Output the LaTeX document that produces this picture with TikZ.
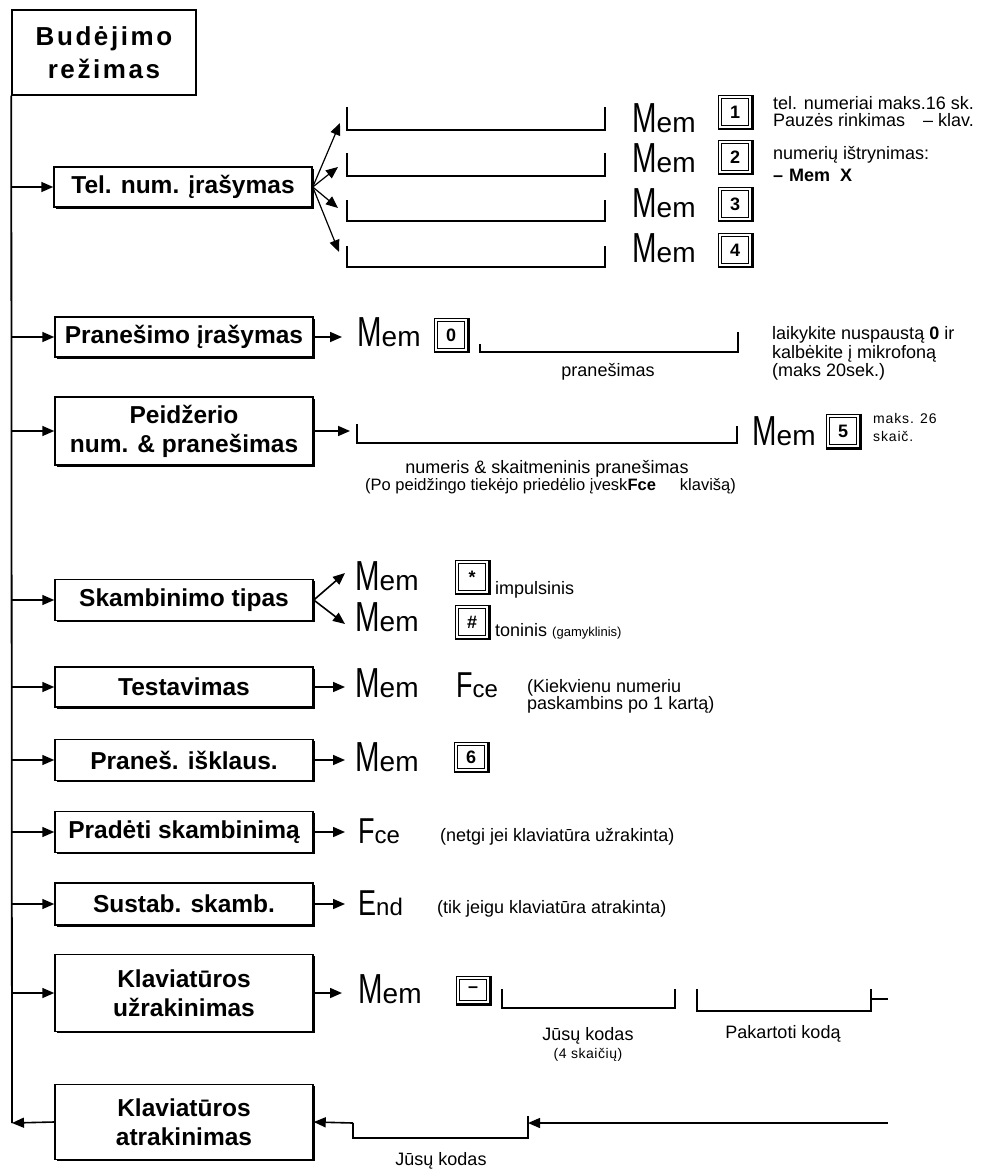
\documentclass[tikz,border=0pt]{standalone}
\usepackage{fontspec}
\setmainfont{Liberation Sans}
\usepackage{graphicx}
\usetikzlibrary{arrows.meta,shadows}
\newcommand{\MemW}{{\fontsize{42}{42}\selectfont\scalebox{0.7}[1]{M}}{\fontsize{28}{28}\selectfont em}}
\newcommand{\FceW}{{\fontsize{36}{36}\selectfont\scalebox{0.75}[1]{F}}{\fontsize{24}{24}\selectfont ce}}
\newcommand{\EndW}{{\fontsize{36}{36}\selectfont\scalebox{0.75}[1]{E}}{\fontsize{24}{24}\selectfont nd}}
\newcommand{\KeyB}[4][33]{%
  \node[keyb, minimum height=#1pt] (#2) at #3 {#4};
  \draw[line width=2.6pt] (#2.north east) -- (#2.south east) -- (#2.south west);
  \draw[line width=0.7pt] ([shift={(3.5,3.5)}]#2.north west) rectangle ([shift={(-4,-4)}]#2.south east);
}
\tikzset{
  box/.style={draw, line width=1.5pt, fill=white, minimum width=258pt, inner sep=0pt,
    font=\fontsize{24.5}{29}\selectfont\bfseries, align=center,
    drop shadow={shadow xshift=1.6pt, shadow yshift=-1.6pt, opacity=1, fill=black}},
  keyb/.style={draw, line width=1pt, fill=white,
    minimum width=34pt, inner sep=0pt,
    font=\fontsize{18}{18}\selectfont\bfseries},
  lcd/.style={inner sep=0pt, anchor=base west},
  note/.style={inner sep=0pt, anchor=base west, font=\fontsize{18}{18}\selectfont},
  notec/.style={inner sep=0pt, anchor=base, font=\fontsize{18}{18}\selectfont},
  small/.style={inner sep=0pt, anchor=base west, font=\fontsize{14}{14}\selectfont},
  arr/.style={line width=1.6pt, -{Triangle[length=12pt,width=10pt]}},
  fan/.style={line width=1.2pt, -{Triangle[length=12pt,width=10pt]}},
  thickb/.style={line width=2.4pt, line cap=rect},
  thinb/.style={line width=1.4pt, line cap=rect},
  trunk/.style={line width=1.8pt}
}
\begin{document}
\begin{tikzpicture}[x=1pt,y=-1pt]
\useasboundingbox (0,0) rectangle (995,1169);
% root
\node[draw, line width=1.5pt, fill=white, minimum width=184pt, minimum height=85pt, inner sep=0pt,
  font=\fontsize{26}{33}\selectfont\bfseries\addfontfeature{LetterSpace=10}, align=center]
  (root) at (104,52.5) {Budėjimo\\režimas};
\coordinate (tend) at (12,1123);
\draw[trunk] (root.south west) -- (tend);

% boxes
\node[box, minimum height=40pt] (tel) at (183,187) {Tel. num. įrašymas};
\node[box, minimum height=40pt] (pran) at (184,337) {Pranešimo įrašymas};
\node[box, minimum height=68pt] (peid) at (184,431) {Peidžerio\\num. \& pranešimas};
\node[box, minimum height=41pt] (skamb) at (184,600) {Skambinimo tipas};
\node[box, minimum height=40pt] (test) at (184,687) {Testavimas};
\node[box, minimum height=41pt] (prisk) at (184,760) {Praneš. išklaus.};
\node[box, minimum height=41pt] (prad) at (184,832) {Pradėti skambinimą};
\node[box, minimum height=42pt] (sust) at (184,904) {Sustab. skamb.};
\node[box, minimum height=77pt] (uzr) at (184,993) {Klaviatūros\\užrakinimas};
\node[box, minimum height=75pt] (atr) at (184,1122) {Klaviatūros\\atrakinimas};

% branches from trunk
\foreach \b in {tel,pran,peid,skamb,test,prisk,prad,sust,uzr}
  \draw[arr] (root.south west |- \b.west) -- (\b.west);
\draw[arr] (atr.west) -- (tend);

% ---- Tel. num. irasymas
\coordinate (f1) at (340,123);
\coordinate (f2) at (338,167);
\coordinate (f3) at (338,208);
\coordinate (f4) at (339,252);
\foreach \f in {f1,f2,f3,f4} \draw[fan] (tel.east) -- (\f);
\draw[thickb] (347,108) -- (347,130) -- (605,130) -- (605,108);
\draw[thickb] (347,154) -- (347,176) -- (605,176) -- (605,154);
\draw[thinb] (347,201) -- (347,221) -- (605,221) -- (605,201);
\draw[thinb] (347,247) -- (347,267) -- (605,267) -- (605,247);
\node[lcd] (m1) at (632,133) {\MemW};
\node[lcd] (m2) at (632,173) {\MemW};
\node[lcd] (m3) at (632,217) {\MemW};
\node[lcd] (m4) at (632,262) {\MemW};
\KeyB{k1}{(735,112)}{1}
\KeyB{k2}{(735,157)}{2}
\KeyB{k3}{(735,204)}{3}
\KeyB{k4}{(735,250)}{4}
\node[note] (n1) at (773,110) {tel. numeriai maks.16 sk.};
\node[note] (n2) at (773,127) {Pauzės rinkimas\hspace{18pt}– klav.};
\node[note] (n3) at (773,160) {numerių ištrynimas:};
\node[note] (n4) at (773,182) {\textbf{–\hspace{6pt}Mem\hspace{10pt}X}};

% ---- Pranesimo irasymas
\coordinate (pa) at (342,337);
\draw[arr] (pran.east) -- (pa);
\node[lcd] (m0) at (357,346) {\MemW};
\KeyB{k0}{(451,335)}{0}
\draw[thinb] (480,345) -- (480,352) -- (738,352) -- (738,333);
\node[notec] (pl) at (608,376) {pranešimas};
\node[note] (pn1) at (772,339) {laikykite nuspaustą \textbf{0} ir};
\node[note] (pn2) at (772,358) {kalbėkite į mikrofoną};
\node[note] (pn3) at (772,376) {(maks 20sek.)};

% ---- Peidzerio
\coordinate (pe) at (350,431);
\draw[arr] (peid.east) -- (pe);
\draw[thickb] (357,425) -- (357,443) -- (737,443) -- (737,427);
\node[lcd] (m5) at (752,445) {\MemW};
\KeyB[34]{k5}{(843,431)}{5}
\node[small] (mk1) at (873,423) {\addfontfeature{LetterSpace=6}maks. 26};
\node[small] (mk2) at (873,441) {\addfontfeature{LetterSpace=6}skaič.};
\node[notec] (nsk) at (547,473) {numeris \& skaitmeninis pranešimas};
\node[small, font=\fontsize{16.5}{16.5}\selectfont] (po) at (365,490) {(Po peidžingo tiekėjo priedėlio įvesk\textbf{Fce}\hspace{24pt}klavišą)};

% ---- Skambinimo tipas
\coordinate (s1) at (345,573);
\coordinate (s2) at (345,624);
\draw[arr] (skamb.east) -- (s1);
\draw[arr] (skamb.east) -- (s2);
\node[lcd] (ms1) at (355,590) {\MemW};
\node[lcd] (ms2) at (355,631) {\MemW};
\KeyB{kst}{(472,577)}{*}
\KeyB{khs}{(472,622)}{\#}
\node[note] (imp) at (495,594) {impulsinis};
\node[note] (ton) at (495,636) {toninis {\fontsize{13}{13}\selectfont(gamyklinis)}};

% ---- Testavimas
\coordinate (ta) at (345,687);
\draw[arr] (test.east) -- (ta);
\node[lcd] (mt) at (355,697) {\MemW};
\node[lcd] (ft) at (456,697) {\FceW};
\node[note] (tn1) at (527,692) {(Kiekvienu numeriu};
\node[note] (tn2) at (527,709) {paskambins po 1 kartą)};

% ---- Pranes. isklaus.
\coordinate (ia) at (345,760);
\draw[arr] (prisk.east) -- (ia);
\node[lcd] (mi) at (355,771) {\MemW};
\KeyB[29]{k6}{(471,757)}{6}

% ---- Pradeti skambinima
\coordinate (da) at (345,832);
\draw[arr] (prad.east) -- (da);
\node[lcd] (fd) at (358,843) {\FceW};
\node[note] (dn) at (440,841) {(netgi jei klaviatūra užrakinta)};

% ---- Sustab. skamb.
\coordinate (sa) at (345,904);
\draw[arr] (sust.east) -- (sa);
\node[lcd] (es) at (358,915) {\EndW};
\node[note] (sn) at (437,913) {(tik jeigu klaviatūra atrakinta)};

% ---- Klaviaturos uzrakinimas
\coordinate (ua) at (342,993);
\draw[arr] (uzr.east) -- (ua);
\node[lcd] (mu) at (358,1003) {\MemW};
\KeyB[28]{km}{(473,990)}{–}
\draw[thinb] (502,990) -- (502,1008) -- (675,1008) -- (675,990);
\node[notec] (jk1) at (588,1040) {Jūsų kodas};
\node[notec, font=\fontsize{14}{14}\selectfont\addfontfeature{LetterSpace=4}] (jk2) at (588,1058) {(4 skaičių)};
\draw[thickb] (697,990) -- (697,1011) -- (871,1011) -- (871,990);
\coordinate (ue) at (888,999);
\draw[line width=1.4pt] (871,999) -- (ue);
\node[notec] (pk) at (783,1038) {Pakartoti kodą};

% ---- Klaviaturos atrakinimas
\coordinate (ae) at (888,1123);
\coordinate (ab) at (528,1123);
\draw[line width=1.4pt, -{Triangle[length=12pt,width=10pt]}] (ae) -- (ab);
\draw[thickb] (528,1117) -- (528,1138) -- (353,1138) -- (353,1124);
\coordinate (ac) at (353,1123);
\draw[arr] (ac) -- (atr.east);
\node[notec] (jk3) at (441,1165) {Jūsų kodas};
\end{tikzpicture}
\end{document}
